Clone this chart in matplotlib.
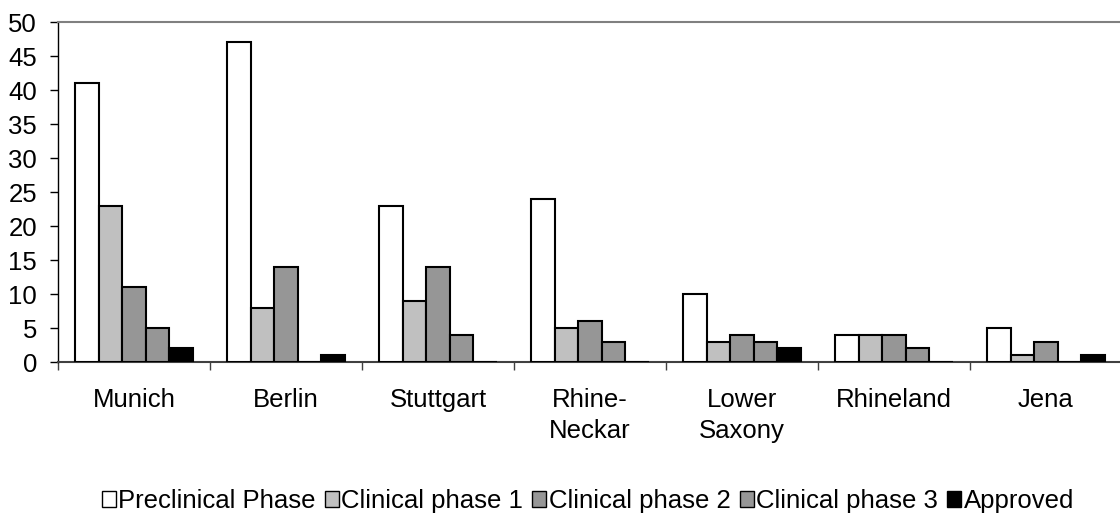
import matplotlib
matplotlib.use("Agg")
import matplotlib.pyplot as plt
import numpy as np

plt.rcParams['font.family'] = ['Liberation Sans', 'DejaVu Sans']

categories = ["Munich", "Berlin", "Stuttgart", "Rhine-\nNeckar", "Lower\nSaxony", "Rhineland", "Jena"]
series_names = ["Preclinical Phase", "Clinical phase 1", "Clinical phase 2", "Clinical phase 3", "Approved"]
preclinical = [41, 47, 23, 24, 10, 4, 5]
phase1 = [23, 8, 9, 5, 3, 4, 1]
phase2 = [11, 14, 14, 6, 4, 4, 3]
phase3 = [5, 0, 4, 3, 3, 2, 0]
approved = [2, 1, 0, 0, 2, 0, 1]
yticks = [0, 5, 10, 15, 20, 25, 30, 35, 40, 45, 50]

series = [preclinical, phase1, phase2, phase3, approved]
colors = ["#FFFFFF", "#C0C0C0", "#969696", "#969696", "#000000"]

W, H = 1120, 516
fig = plt.figure(figsize=(W / 100, H / 100), dpi=100)
ax = fig.add_axes([58 / W, (H - 362) / H, 1064 / W, 340 / H])

x = np.arange(len(categories))
bw = 0.154
fs = 18.5
handles = []
for i, (vals, c, name) in enumerate(zip(series, colors, series_names)):
    off = (i - 2) * bw
    b = ax.bar(x + off, vals, width=bw, color=c, edgecolor="black", linewidth=1.5,
               label=name, zorder=3)
    handles.append(b)

ax.set_xlim(-0.5, len(categories) - 0.5)
ax.set_ylim(0, 50)
ax.set_yticks(yticks)
ax.set_yticklabels([str(v) for v in yticks], fontsize=fs)
ax.tick_params(axis='y', length=6, width=1, pad=9, color='black')

ax.set_xticks(x)
ax.set_xticklabels(categories, fontsize=fs, linespacing=1.35)
ax.tick_params(axis='x', which='major', length=0, pad=19)
ax.set_xticks(np.arange(len(categories) + 1) - 0.5, minor=True)
ax.tick_params(axis='x', which='minor', length=6, width=1, color='#404040')

ax.spines['right'].set_visible(False)
ax.spines['top'].set_color('#808080')
ax.spines['top'].set_linewidth(1.5)
ax.spines['left'].set_color('black')
ax.spines['left'].set_linewidth(1)
ax.spines['bottom'].set_color('#404040')
ax.spines['bottom'].set_linewidth(1.5)

leg = fig.legend(handles=handles, labels=series_names, loc='center',
                 bbox_to_anchor=(588 / W, (H - 501) / H), ncol=5, fontsize=fs,
                 frameon=False, handlelength=0.55, handleheight=0.55,
                 handletextpad=0.1, columnspacing=0.35, borderpad=0)
for p in leg.get_patches():
    p.set_linewidth(1)

fig.savefig("out.png", dpi=100)
